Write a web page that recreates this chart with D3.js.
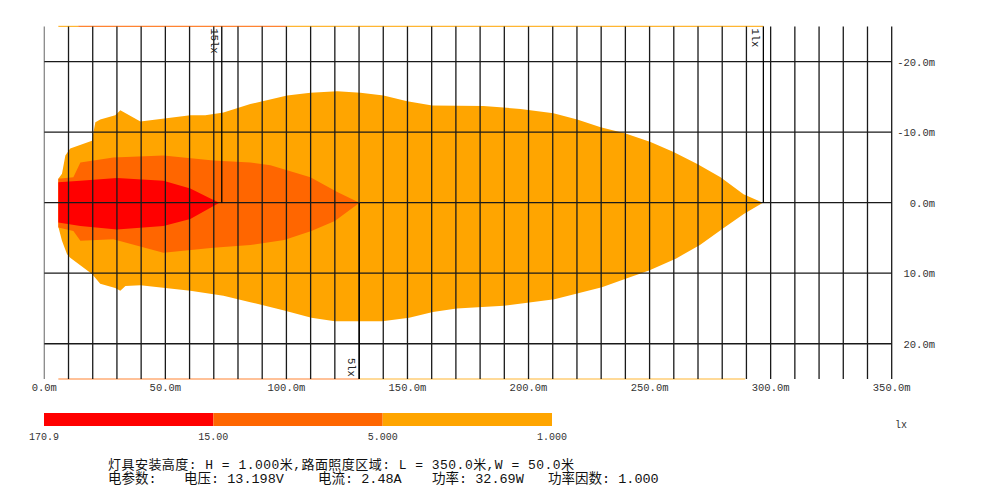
<!DOCTYPE html>
<html>
<head>
<meta charset="utf-8">
<script src="https://cdn.jsdelivr.net/npm/d3@7"></script>
<style>
  html, body { margin: 0; padding: 0; background: #fff; }
  svg { display: block; }
</style>
</head>
<body>
<svg id="chart" width="987" height="494"></svg>
<script>
// ---------------- data (metres) ----------------
// 1 lx isoline (outer), x along road, y across road (negative = upper side)
const lux1X = [5.8, 7.3, 8.7, 10.7, 19.7, 20.3, 21.1, 23.1, 29.3, 31.4, 39.7, 60.3, 66.5, 74.0, 85.1, 100.3, 109.9, 121.0, 130.6, 140.1, 149.9, 160.2, 181.4, 196.7, 210.3, 220.1, 229.8, 240.1, 250.4, 259.9, 269.7, 279.3, 288.8, 296.8,
               288.9, 280.6, 270.8, 261.0, 249.8, 240.1, 230.3, 210.7, 189.8, 170.3, 160.5, 150.7, 139.6, 120.0, 110.3, 99.1, 85.1, 74.0, 60.3, 39.7, 33.5, 31.4, 29.3, 23.1, 19.7, 10.7, 9.4, 7.3, 5.8];
const lux1Y = [-3.4, -4.1, -6.7, -7.7, -8.8, -10.0, -11.4, -11.8, -12.4, -13.1, -11.5, -12.4, -12.4, -12.8, -14.0, -15.2, -15.6, -15.8, -15.6, -15.2, -14.4, -13.8, -13.7, -13.3, -12.7, -11.8, -10.7, -9.8, -8.6, -7.2, -5.5, -3.6, -1.2, 0,
               1.6, 3.6, 6.0, 7.9, 9.6, 10.8, 12.0, 13.7, 14.6, 15.0, 15.5, 16.3, 16.8, 16.8, 16.3, 15.3, 14.1, 13.2, 12.5, 11.7, 11.8, 12.5, 12.1, 11.5, 10.1, 7.8, 7.3, 5.4, 3.4];
// 5 lx isoline
const lux5X = [5.8, 12.0, 14.9, 28.5, 49.2, 69.8, 85.1, 93.4, 109.9, 121.0, 130.2,
               120.0, 110.3, 99.1, 85.1, 69.8, 49.2, 28.5, 14.9, 12.0, 5.8];
const lux5Y = [-3.4, -3.6, -5.7, -6.4, -6.7, -6.0, -5.7, -5.3, -3.6, -1.5, 0,
               2.6, 4.0, 5.3, 6.0, 6.4, 7.1, 5.2, 5.4, 4.0, 3.5];
// 15 lx isoline
const lux15X = [5.8, 14.9, 30.0, 49.2, 60.3, 68.6, 72.3, 68.6, 60.3, 49.2, 30.0, 14.9, 5.8];
const lux15Y = [-2.9, -3.1, -3.5, -3.1, -2.0, -0.6, 0, 0.7, 2.3, 3.3, 3.8, 3.3, 2.8];

const levelNames = ["1lx", "5lx", "15lx"];
const levelColors = ["#FFA500", "#FF6600", "#FF0000"];

// isoline tip markers
const markerLabels = ["15lx", "5lx", "1lx"];
const markerX = [73.3, 130.1, 297.0];
const markerSide = ["top", "bottom", "top"];

// edge traces along top / bottom border
const topEdgeFrom = [5.8, 14.0, 100.0];
const topEdgeTo = [14.0, 100.0, 297.0];
const topEdgeLevel = [0, 1, 0];
const bottomEdgeFrom = [5.8, 130.1];
const bottomEdgeTo = [130.1, 289.5];
const bottomEdgeLevel = [1, 0];

// axes
const xTicks = [0, 50, 100, 150, 200, 250, 300, 350];
const xTickLabels = ["0.0m", "50.0m", "100.0m", "150.0m", "200.0m", "250.0m", "300.0m", "350.0m"];
const yTicks = [-20, -10, 0, 10, 20];
const yTickLabels = ["-20.0m", "-10.0m", "0.0m", "10.0m", "20.0m"];
const gridStepX = 10;

// legend
const legendColors = ["#FF0000", "#FF6600", "#FFA500"];
const legendLabels = ["170.9", "15.00", "5.000", "1.000"];
const legendUnit = "lx";

// info text
const infoLine1 = "灯具安装高度: H = 1.000米,路面照度区域: L = 350.0米,W = 50.0米";
const infoLine2Parts = ["电参数:", "电压: 13.198V", "电流: 2.48A", "功率: 32.69W", "功率因数: 1.000"];
const infoLine2X = [108, 184, 318, 432, 548];

// ---------------- drawing ----------------
const svg = d3.select("#chart");
const mono = "'Liberation Mono', 'DejaVu Sans Mono', monospace";
const cjk = "'Liberation Mono', 'Noto Sans CJK SC', monospace";

const x = d3.scaleLinear().domain([0, 350]).range([44.3, 891.7]);
const y = d3.scaleLinear().domain([-25, 25]).range([26.4, 379]);

svg.append("rect").attr("width", 987).attr("height", 494).attr("fill", "#fff");

const contours = [
  { xs: lux1X, ys: lux1Y, c: levelColors[0] },
  { xs: lux5X, ys: lux5Y, c: levelColors[1] },
  { xs: lux15X, ys: lux15Y, c: levelColors[2] }
];
const line = d3.line().x(d => x(d[0])).y(d => y(d[1])).curve(d3.curveLinearClosed);
contours.forEach(ct => {
  const pts = ct.xs.map((v, i) => [v, ct.ys[i]]);
  svg.append("path").attr("d", line(pts)).attr("fill", ct.c).attr("stroke", "none");
});

// edge traces
topEdgeFrom.forEach((v, i) => {
  svg.append("line").attr("x1", x(v)).attr("x2", x(topEdgeTo[i]))
    .attr("y1", y(-25)).attr("y2", y(-25))
    .attr("stroke", levelColors[topEdgeLevel[i]]).attr("stroke-width", 1.2).attr("opacity", 0.8);
});
bottomEdgeFrom.forEach((v, i) => {
  svg.append("line").attr("x1", x(v)).attr("x2", x(bottomEdgeTo[i]))
    .attr("y1", y(25)).attr("y2", y(25))
    .attr("stroke", levelColors[bottomEdgeLevel[i]]).attr("stroke-width", 1.2).attr("opacity", 0.8);
});

// grid
const gx = d3.range(0, 350 + 0.001, gridStepX);
svg.append("g").selectAll("line").data(gx).join("line")
  .attr("x1", d => x(d)).attr("x2", d => x(d))
  .attr("y1", y(-25)).attr("y2", y(25))
  .attr("stroke", d => d === 0 ? "#888" : "#1a1a1a").attr("stroke-width", 1.3);
svg.append("g").selectAll("line").data(yTicks).join("line")
  .attr("x1", x(0)).attr("x2", x(350))
  .attr("y1", d => y(d)).attr("y2", d => y(d))
  .attr("stroke", "#1a1a1a").attr("stroke-width", 1.3);

// markers
markerX.forEach((mx, i) => {
  const top = markerSide[i] === "top";
  svg.append("line").attr("x1", x(mx)).attr("x2", x(mx))
    .attr("y1", top ? y(-25) : y(25)).attr("y2", y(0))
    .attr("stroke", "#000").attr("stroke-width", 1.3);
  const ty = top ? y(-25) + 2 : y(25) - 21;
  svg.append("text")
    .attr("transform", `translate(${x(mx) - 11},${ty}) rotate(90)`)
    .attr("font-family", mono).attr("font-size", 10.5).attr("fill", "#222")
    .text(markerLabels[i]);
});

// x axis labels
svg.append("g").selectAll("text").data(xTicks).join("text")
  .attr("x", d => x(d)).attr("y", 391)
  .attr("text-anchor", "middle")
  .attr("font-family", mono).attr("font-size", 10.5).attr("fill", "#333")
  .text((d, i) => xTickLabels[i]);

// y axis labels (right)
svg.append("g").selectAll("text").data(yTicks).join("text")
  .attr("x", 935).attr("y", d => y(d) + 4)
  .attr("text-anchor", "end")
  .attr("font-family", mono).attr("font-size", 10.5).attr("fill", "#333")
  .text((d, i) => yTickLabels[i]);

// legend
const lx = d3.scaleLinear().domain([0, legendColors.length]).range([44, 552]);
svg.append("g").selectAll("rect").data(legendColors).join("rect")
  .attr("x", (d, i) => lx(i)).attr("y", 413)
  .attr("width", lx(1) - lx(0)).attr("height", 13)
  .attr("fill", d => d);
svg.append("g").selectAll("text").data(legendLabels).join("text")
  .attr("x", (d, i) => lx(i)).attr("y", 440)
  .attr("text-anchor", "middle")
  .attr("font-family", mono).attr("font-size", 10).attr("fill", "#333")
  .text(d => d);
svg.append("text").attr("x", 895).attr("y", 428)
  .attr("font-family", mono).attr("font-size", 10).attr("fill", "#333")
  .text(legendUnit);

// info
svg.append("text").attr("x", 108).attr("y", 469)
  .attr("font-family", cjk).attr("font-size", 13).attr("fill", "#111")
  .attr("textLength", 466).attr("lengthAdjust", "spacing")
  .text(infoLine1);
infoLine2Parts.forEach((t, i) => {
  svg.append("text").attr("x", infoLine2X[i]).attr("y", 483)
    .attr("font-family", cjk).attr("font-size", 13.5).attr("fill", "#111")
    .style("white-space", "pre")
    .text(t);
});
</script>
</body>
</html>
